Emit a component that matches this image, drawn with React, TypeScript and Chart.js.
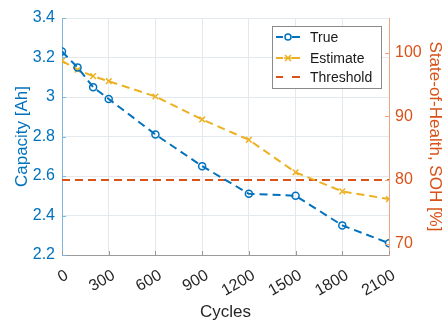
import { useEffect, useRef } from "react";
import { Chart, registerables } from "chart.js";

Chart.register(...registerables);

const cycles = [0, 100, 200, 300, 600, 900, 1200, 1500, 1800, 2100];
const trueCapacity = [3.23, 3.15, 3.05, 2.99, 2.81, 2.65, 2.51, 2.5, 2.35, 2.26];
const estimateSOH = [98.7, 97.3, 96.3, 95.5, 93.1, 89.5, 86.3, 81.2, 78.2, 77.0];
const thresholdSOH = 80;
const thresholdCycles = [0, 2100];
const xTicks = [0, 300, 600, 900, 1200, 1500, 1800, 2100];
const leftTicks = [2.2, 2.4, 2.6, 2.8, 3.0, 3.2, 3.4];
const rightTicks = [70, 80, 90, 100];
const nominalCapacity = 3.225;

const BLUE = "#0072BD";
const ORANGE = "#D95319";
const YELLOW = "#EDB120";
const FONT = "'Liberation Sans', Arial, Helvetica, sans-serif";

const legendItems = [
  { label: "True", color: BLUE, marker: "circle" },
  { label: "Estimate", color: YELLOW, marker: "cross" },
  { label: "Threshold", color: ORANGE, marker: "none" },
];

const overlayPlugin = {
  id: "overlay",
  afterDraw(chart: any) {
    const ctx = chart.ctx as CanvasRenderingContext2D;
    const area = chart.chartArea;
    const x = chart.scales.x;
    const y = chart.scales.y;
    const y1 = chart.scales.y1;
    ctx.save();
    // inner tick marks
    ctx.lineWidth = 1;
    ctx.strokeStyle = "#9a9a9a";
    xTicks.forEach((v) => {
      const px = Math.round(x.getPixelForValue(v)) + 0.5;
      ctx.beginPath();
      ctx.moveTo(px, area.bottom);
      ctx.lineTo(px, area.bottom - 4);
      ctx.stroke();
    });
    ctx.strokeStyle = "#7fb6df";
    leftTicks.forEach((v) => {
      const py = Math.round(y.getPixelForValue(v)) + 0.5;
      ctx.beginPath();
      ctx.moveTo(area.left, py);
      ctx.lineTo(area.left + 4, py);
      ctx.stroke();
    });
    ctx.strokeStyle = "#efa581";
    rightTicks.forEach((v) => {
      const py = Math.round(y1.getPixelForValue(v)) + 0.5;
      ctx.beginPath();
      ctx.moveTo(area.right, py);
      ctx.lineTo(area.right - 4, py);
      ctx.stroke();
    });

    // legend box
    const bx = 272.5, by = 26.5, bw = 109, bh = 62;
    ctx.fillStyle = "#ffffff";
    ctx.fillRect(bx, by, bw, bh);
    ctx.strokeStyle = "#8a8a8a";
    ctx.lineWidth = 1;
    ctx.strokeRect(bx, by, bw, bh);
    const rows = [37, 58, 77];
    ctx.font = `14px ${FONT}`;
    ctx.textBaseline = "middle";
    ctx.textAlign = "left";
    legendItems.forEach((it, i) => {
      const cy = rows[i];
      ctx.strokeStyle = it.color;
      ctx.lineWidth = 2;
      ctx.setLineDash([]);
      ctx.beginPath();
      ctx.moveTo(276, cy);
      ctx.lineTo(283, cy);
      ctx.moveTo(292, cy);
      ctx.lineTo(300, cy);
      ctx.stroke();
      if (it.marker === "circle") {
        ctx.lineWidth = 1.5;
        ctx.beginPath();
        ctx.arc(288, cy, 3, 0, Math.PI * 2);
        ctx.stroke();
      } else if (it.marker === "cross") {
        ctx.lineWidth = 1.5;
        ctx.beginPath();
        ctx.moveTo(285, cy - 3);
        ctx.lineTo(291, cy + 3);
        ctx.moveTo(291, cy - 3);
        ctx.lineTo(285, cy + 3);
        ctx.moveTo(284, cy);
        ctx.lineTo(292, cy);
        ctx.stroke();
      }
      ctx.fillStyle = "#1a1a1a";
      ctx.fillText(it.label, 310, cy + 1);
    });
    ctx.restore();
  },
};

export default function App() {
  const ref = useRef<HTMLCanvasElement | null>(null);
  useEffect(() => {
    if (!ref.current) return;
    const chart = new Chart(ref.current, {
      type: "line",
      data: {
        datasets: [
          {
            label: "Threshold",
            data: thresholdCycles.map((c) => ({ x: c, y: thresholdSOH })),
            yAxisID: "y1",
            borderColor: ORANGE,
            borderWidth: 2,
            borderDash: [8, 5],
            pointRadius: 0,
            order: 3,
          },
          {
            label: "Estimate",
            data: cycles.map((c, i) => ({ x: c, y: estimateSOH[i] })),
            yAxisID: "y1",
            borderColor: YELLOW,
            backgroundColor: YELLOW,
            borderWidth: 2,
            borderDash: [8, 5],
            pointStyle: "crossRot",
            pointRadius: 4,
            pointBorderWidth: 1.5,
            order: 2,
          },
          {
            label: "True",
            data: cycles.map((c, i) => ({ x: c, y: trueCapacity[i] })),
            yAxisID: "y",
            borderColor: BLUE,
            backgroundColor: "rgba(0,0,0,0)",
            borderWidth: 2,
            borderDash: [8, 5],
            pointStyle: "circle",
            pointRadius: 3.5,
            pointBorderWidth: 1.5,
            order: 1,
          },
        ],
      },
      options: {
        responsive: false,
        animation: false,
        layout: { padding: { top: 18, left: 0, right: 0, bottom: 0 } },
        plugins: { legend: { display: false }, tooltip: { enabled: false } },
        scales: {
          x: {
            type: "linear",
            min: 0,
            max: 2100,
            afterBuildTicks: (s: any) => {
              s.ticks = xTicks.map((v) => ({ value: v }));
            },
            afterFit: (s: any) => {
              s.height = 69;
            },
            ticks: {
              autoSkip: false,
              minRotation: 30,
              maxRotation: 30,
              padding: 11,
              labelOffset: 5,
              color: "#262626",
              font: { family: FONT, size: 16 },
              callback: (v: any) => String(v),
            },
            grid: { color: "#e4e9ee", drawTicks: false, lineWidth: 1 },
            border: { color: "#9a9a9a", width: 1 },
            title: {
              display: true,
              text: "Cycles",
              color: "#262626",
              font: { family: FONT, size: 17 },
              padding: { top: 0, bottom: 1 },
            },
          },
          y: {
            type: "linear",
            position: "left",
            min: leftTicks[0],
            max: leftTicks[leftTicks.length - 1],
            afterBuildTicks: (s: any) => {
              s.ticks = leftTicks.map((v) => ({ value: v }));
            },
            afterFit: (s: any) => {
              s.width = 62;
            },
            ticks: {
              padding: 7,
              color: BLUE,
              font: { family: FONT, size: 16 },
              callback: (v: any) => String(Math.round(Number(v) * 10) / 10),
            },
            grid: { color: "#e4e9ee", drawTicks: false, lineWidth: 1 },
            border: { color: "#7fb6df", width: 1 },
            title: {
              display: true,
              text: "Capacity [Ah]",
              color: BLUE,
              font: { family: FONT, size: 17 },
              padding: { top: 12, bottom: 0 },
            },
          },
          y1: {
            type: "linear",
            position: "right",
            min: (leftTicks[0] / nominalCapacity) * 100,
            max: (leftTicks[leftTicks.length - 1] / nominalCapacity) * 100,
            afterBuildTicks: (s: any) => {
              s.ticks = rightTicks.map((v) => ({ value: v }));
            },
            afterFit: (s: any) => {
              s.width = 57;
            },
            ticks: {
              padding: 6,
              color: ORANGE,
              font: { family: FONT, size: 16 },
              callback: (v: any) => String(v),
            },
            grid: { display: false, drawTicks: false },
            border: { color: "#efa581", width: 1 },
            title: {
              display: true,
              text: "State-of-Health, SOH [%]",
              color: ORANGE,
              font: { family: FONT, size: 17 },
              padding: { top: 1, bottom: 0 },
            },
          },
        },
      },
      plugins: [overlayPlugin],
    } as any);
    return () => chart.destroy();
  }, []);
  return (
    <div style={{ position: "fixed", left: 0, top: 0, width: 446, height: 324, background: "#fff" }}>
      <canvas ref={ref} width={446} height={324} />
    </div>
  );
}
